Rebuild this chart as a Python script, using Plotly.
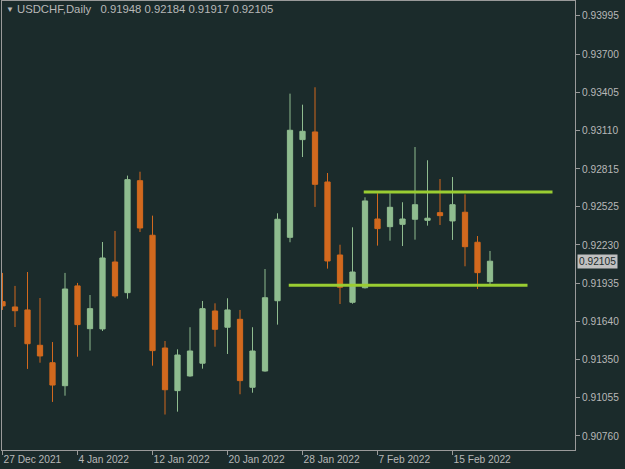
import plotly.graph_objects as go

# ---- data ----
dates = ["27 Dec 2021", "28 Dec 2021", "29 Dec 2021", "30 Dec 2021", "31 Dec 2021",
         "3 Jan 2022", "4 Jan 2022", "5 Jan 2022", "6 Jan 2022", "7 Jan 2022",
         "10 Jan 2022", "11 Jan 2022", "12 Jan 2022", "13 Jan 2022", "14 Jan 2022",
         "17 Jan 2022", "18 Jan 2022", "19 Jan 2022", "20 Jan 2022", "21 Jan 2022",
         "24 Jan 2022", "25 Jan 2022", "26 Jan 2022", "27 Jan 2022", "28 Jan 2022",
         "31 Jan 2022", "1 Feb 2022", "2 Feb 2022", "3 Feb 2022", "4 Feb 2022",
         "7 Feb 2022", "8 Feb 2022", "9 Feb 2022", "10 Feb 2022", "11 Feb 2022",
         "14 Feb 2022", "15 Feb 2022", "16 Feb 2022", "17 Feb 2022", "18 Feb 2022"]

opens = [0.91794, 0.91753, 0.91730, 0.91458, 0.91324, 0.91147, 0.91915, 0.91586, 0.91584, 0.92099,
         0.91863, 0.92725, 0.92305, 0.91437, 0.91109, 0.91222, 0.91320, 0.91722, 0.91597, 0.91658,
         0.91135, 0.91260, 0.91801, 0.92289, 0.93041, 0.93100, 0.92715, 0.92153, 0.91789, 0.91901,
         0.92430, 0.92371, 0.92389, 0.92428, 0.92420, 0.92479, 0.92415, 0.92482, 0.92251, 0.91948]
highs = [0.92015, 0.91915, 0.92022, 0.91822, 0.91483, 0.92015, 0.91938, 0.91845, 0.92253, 0.92338,
         0.92764, 0.92794, 0.92456, 0.91491, 0.91427, 0.91597, 0.91799, 0.91781, 0.91820, 0.91730,
         0.91597, 0.92045, 0.92474, 0.93395, 0.93310, 0.93444, 0.92784, 0.92232, 0.92366, 0.92597,
         0.92628, 0.92628, 0.92559, 0.92984, 0.92882, 0.92738, 0.92753, 0.92620, 0.92299, 0.92184]
lows = [0.91730, 0.91599, 0.91276, 0.91324, 0.91022, 0.91070, 0.91370, 0.91417, 0.91568, 0.91824,
        0.91817, 0.92330, 0.91301, 0.90925, 0.90947, 0.91216, 0.91278, 0.91447, 0.91391, 0.91081,
        0.91093, 0.91255, 0.91617, 0.92251, 0.92907, 0.92523, 0.92048, 0.91776, 0.91778, 0.91895,
        0.92225, 0.92263, 0.92222, 0.92271, 0.92379, 0.92384, 0.92269, 0.92066, 0.91891, 0.91917]
closes = [0.91761, 0.91724, 0.91470, 0.91376, 0.91152, 0.91891, 0.91617, 0.91740, 0.92130, 0.91838,
          0.92733, 0.92361, 0.91417, 0.91116, 0.91383, 0.91414, 0.91740, 0.91581, 0.91730, 0.91186,
          0.91414, 0.91824, 0.92428, 0.93113, 0.93105, 0.92697, 0.92107, 0.91905, 0.92022, 0.92569,
          0.92356, 0.92520, 0.92430, 0.92540, 0.92436, 0.92456, 0.92540, 0.92217, 0.92017, 0.92105]

x_tick_dates = ["27 Dec 2021", "4 Jan 2022", "12 Jan 2022", "20 Jan 2022",
                "28 Jan 2022", "7 Feb 2022", "15 Feb 2022"]
y_tick_values = [0.93995, 0.93700, 0.93405, 0.93110, 0.92815, 0.92525, 0.92230,
                 0.91935, 0.91640, 0.91350, 0.91055, 0.90760]

# horizontal levels (price, start bar, end bar)
level_prices = [0.92638, 0.91920]
level_start = [28.9, 22.9]
level_end = [44.0, 42.0]

symbol = "USDCHF,Daily"
last_price = closes[-1]

# ---- styling ----
BG = "#1b2b2b"
TXT = "#b8b8b8"
FRAME = "#9a9a9a"
UP = "#8fbc8f"
DOWN = "#d2691e"
LEVEL = "#9acd32"
FONT = "Liberation Sans"
FS = 10.2

idx = list(range(len(dates)))

fig = go.Figure()
fig.add_trace(go.Candlestick(
    x=idx, open=opens, high=highs, low=lows, close=closes,
    increasing=dict(line=dict(color=UP, width=1), fillcolor=UP),
    decreasing=dict(line=dict(color=DOWN, width=1), fillcolor=DOWN),
    whiskerwidth=0, hoverinfo="skip", showlegend=False,
))

for p, a, b in zip(level_prices, level_start, level_end):
    fig.add_shape(type="line", x0=a, x1=b, y0=p, y1=p, xref="x", yref="y",
                  line=dict(color=LEVEL, width=3))

tickvals_x = [dates.index(d) for d in x_tick_dates]

fig.update_layout(
    width=625, height=469,
    margin=dict(l=2, r=50, t=1, b=19),
    paper_bgcolor=BG, plot_bgcolor=BG,
    boxgap=0.4,
    font=dict(family=FONT, color=TXT, size=FS),
    xaxis=dict(
        range=[-0.04, 45.8], rangeslider=dict(visible=False),
        tickvals=tickvals_x, ticktext=x_tick_dates,
        ticks="outside", ticklen=4, tickcolor=FRAME,
        ticklabelposition="outside right",
        showgrid=False, zeroline=False,
        showline=True, linecolor=FRAME, linewidth=1, mirror=True,
        tickfont=dict(family=FONT, color=TXT, size=FS),
    ),
    yaxis=dict(
        side="right", range=[0.90652, 0.94108],
        tickvals=y_tick_values, ticktext=[f"{v:.5f}" for v in y_tick_values],
        ticks="outside", ticklen=4, tickcolor=FRAME,
        showgrid=False, zeroline=False,
        showline=True, linecolor=FRAME, linewidth=1, mirror=True,
        tickfont=dict(family=FONT, color=TXT, size=FS),
    ),
    hovermode=False,
)

o, h, l, c = opens[-1], highs[-1], lows[-1], closes[-1]
fig.add_annotation(xref="paper", yref="paper", x=0.004, y=0.996, xanchor="left", yanchor="top",
                   text="▼", showarrow=False, font=dict(family=FONT, color=TXT, size=8))
fig.add_annotation(xref="paper", yref="paper", x=0.022, y=0.999, xanchor="left", yanchor="top",
                   text=f"{symbol}\u00a0\u00a0 {o:.5f} {h:.5f} {l:.5f} {c:.5f}", showarrow=False,
                   font=dict(family=FONT, color=TXT, size=11.3))
fig.add_annotation(xref="paper", yref="y", x=1.004, y=last_price, xanchor="left", yanchor="middle",
                   text=f"{last_price:.5f}", showarrow=False, bgcolor="#c0c0c0",
                   borderpad=1, font=dict(family=FONT, color="#1b2b2b", size=FS))

fig.write_html("out.html")
